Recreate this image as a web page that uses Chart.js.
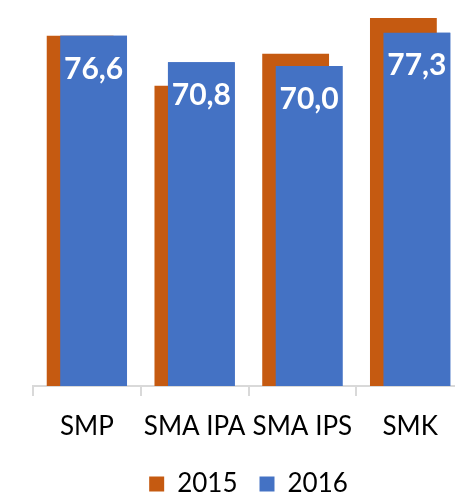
<!DOCTYPE html>
<html>
<head>
<meta charset="utf-8">
<script src="https://cdn.jsdelivr.net/npm/chart.js@4"></script>
<style>
html, body { margin: 0; padding: 0; background: #fff; overflow: hidden; }
#wrap { width: 506px; height: 507px; }
</style>
</head>
<body>
<div id="wrap"><canvas id="grafica" width="506" height="507"></canvas></div>
<script>
// data
var jenjang = ["SMP", "SMA IPA", "SMA IPS", "SMK"];
var tahun = ["2015", "2016"];
var nilai2015 = [76.6, 65.7, 72.7, 80.5];
var nilai2016 = [76.6, 70.8, 70.0, 77.3];

var oranye = '#C55A11';
var biru = '#4472C4';

// batang 2016 digambar ulang di atas 2015, lalu label nilai putih di dalamnya
const labelNilai = {
  id: 'labelNilai',
  afterDatasetsDraw(chart) {
    var meta = chart.getDatasetMeta(1);
    meta.controller.draw();
    var ctx = chart.ctx;
    ctx.save();
    ctx.fillStyle = '#fff';
    ctx.font = 'bold 30px Lato';
    ctx.textAlign = 'center';
    ctx.textBaseline = 'middle';
    meta.data.forEach(function(bar, i) {
      ctx.fillText(nilai2016[i].toFixed(1).replace('.', ','), bar.x, bar.y + 33);
    });
    ctx.restore();
  }
};

const data2015 = {
  label: tahun[0],
  data: nilai2015,
  backgroundColor: oranye,
  borderWidth: 0,
  categoryPercentage: 0.25,
  barPercentage: 4.96
};
const data2016 = {
  label: tahun[1],
  data: nilai2016,
  backgroundColor: biru,
  borderWidth: 0,
  categoryPercentage: 0.25,
  barPercentage: 4.96
};

var ctx = document.getElementById("grafica").getContext("2d");
var grafik = new Chart(ctx, {
  type: 'bar',
  data: {
    labels: jenjang,
    datasets: [data2015, data2016]
  },
  plugins: [labelNilai],
  options: {
    responsive: false,
    animation: false,
    devicePixelRatio: 1,
    layout: { padding: { top: 2, left: 33, right: 42, bottom: 0 } },
    scales: {
      x: {
        afterFit: function(scale) { scale.height = 63; },
        grid: {
          display: true,
          drawOnChartArea: false,
          drawTicks: true,
          tickLength: 10,
          color: '#d9d9d9',
          lineWidth: 2,
          offset: true
        },
        border: { display: true, color: '#d9d9d9', width: 2 },
        ticks: {
          color: '#000',
          font: { family: 'Lato', size: 26, lineHeight: 1 },
          padding: 18,
          maxRotation: 0,
          autoSkip: false
        }
      },
      y: {
        display: false,
        min: 0,
        max: 84
      }
    },
    plugins: {
      tooltip: { enabled: false },
      legend: {
        display: true,
        position: 'bottom',
        labels: {
          boxWidth: 15,
          boxHeight: 15,
          padding: 22,
          color: '#000',
          font: { family: 'Lato', size: 26 }
        }
      }
    }
  }
});
</script>
</body>
</html>
